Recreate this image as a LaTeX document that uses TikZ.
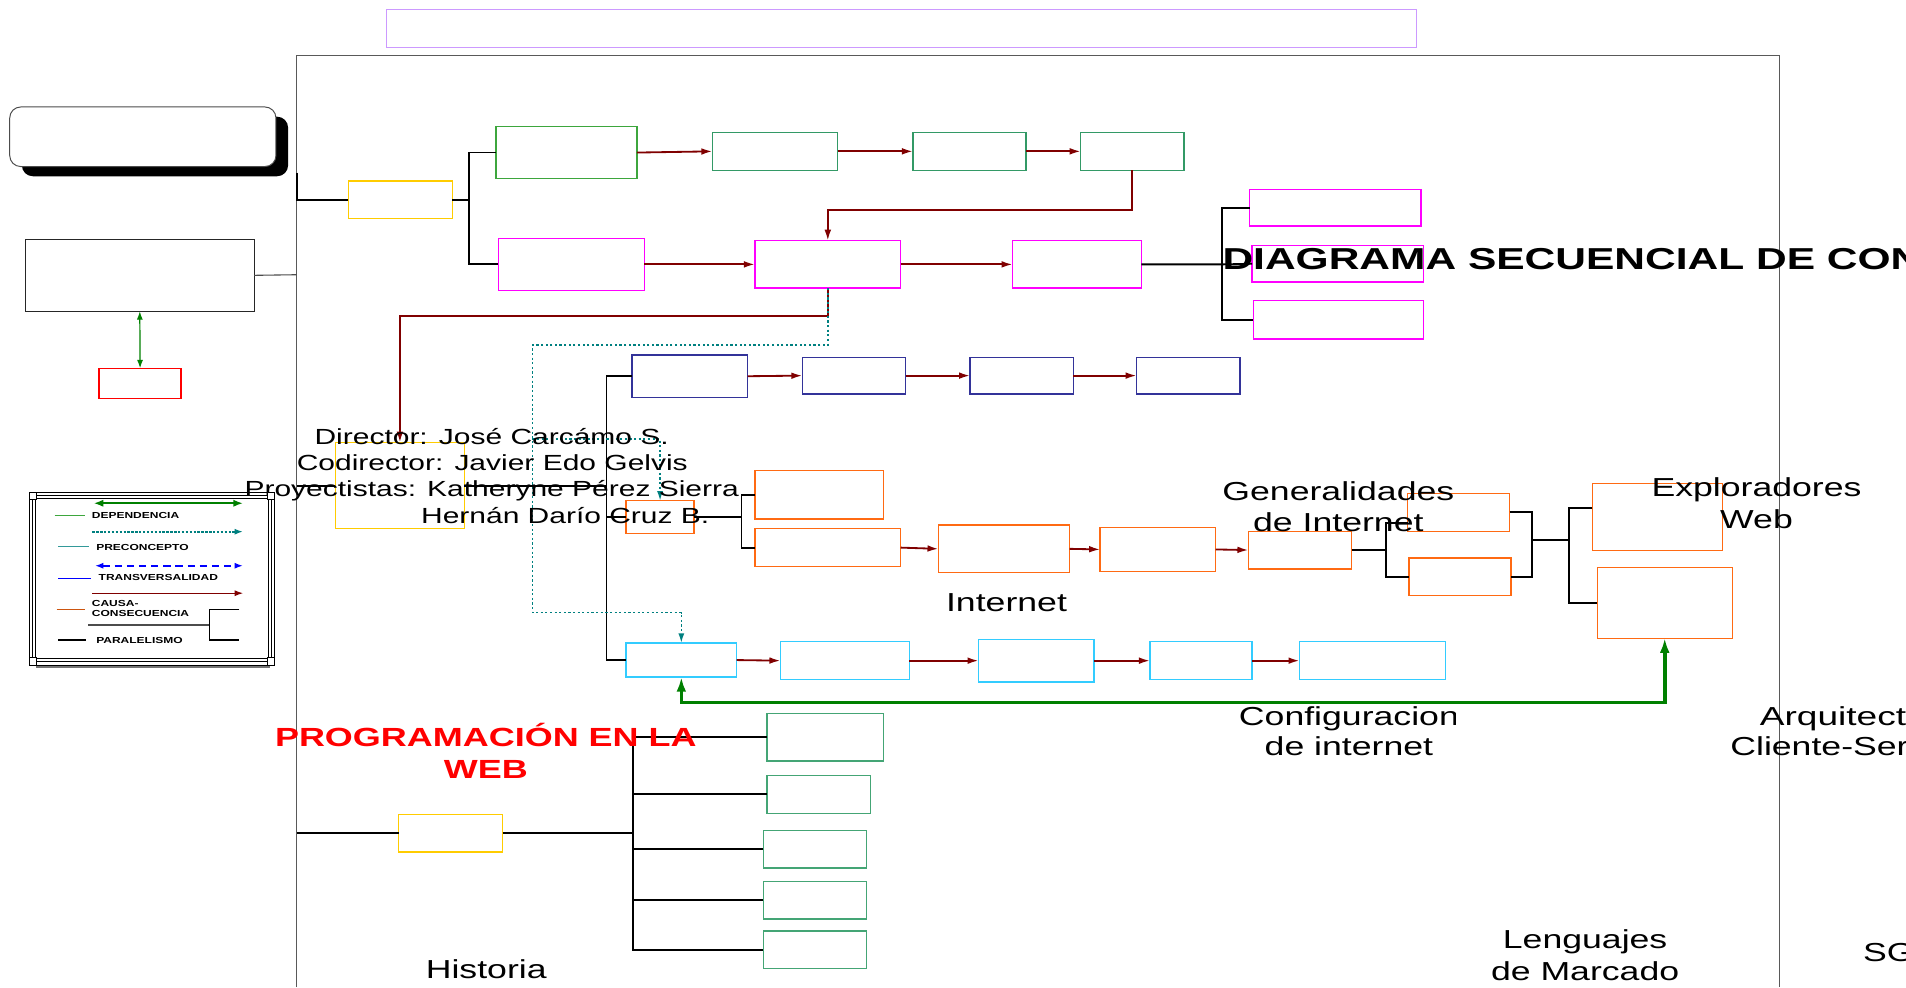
\documentclass[tikz,border=0pt]{standalone}
\usepackage{fontspec}
\setmainfont{Liberation Sans}[FakeStretch=1.37]
\usetikzlibrary{arrows.meta,shadows}
\definecolor{cPurple}{HTML}{CC99FF}
\definecolor{cYellow}{HTML}{FFCC00}
\definecolor{cGreenA}{HTML}{3DA63D}
\definecolor{cGreenB}{HTML}{339966}
\definecolor{cGreenC}{HTML}{44A575}
\definecolor{cMag}{HTML}{FF00FF}
\definecolor{cNavy}{HTML}{333399}
\definecolor{cOrange}{HTML}{FF6A13}
\definecolor{cCyan}{HTML}{33CCFF}
\definecolor{cDRed}{HTML}{800000}
\definecolor{cTeal}{HTML}{008080}
\definecolor{cDep}{HTML}{008000}
\newcommand\mybox[6]{%
  \pgfmathsetmacro\bxw{#4-#2}\pgfmathsetmacro\bxh{#5-#3}%
  \pgfmathsetmacro\bxx{(#2+#4)/2}\pgfmathsetmacro\bxy{(#3+#5)/2}%
  \node[bx,#6,minimum width=\bxw pt,minimum height=\bxh pt] (#1) at (\bxx,\bxy) {};}
\begin{document}
\begin{tikzpicture}[x=1pt,y=-1pt,
  bx/.style={draw,line width=1.1pt,inner sep=0pt,outer sep=0pt},
  ca/.style={draw=cDRed,line width=1.5pt,-{Latex[length=9pt,width=5.5pt]}},
  par/.style={draw=black,line width=1.5pt},
  pre/.style={draw=cTeal,line width=1.3pt,dash pattern=on 1.8pt off 2pt,-{Latex[length=8pt,width=5pt]}},
  dep/.style={draw=cDep,line width=1pt,{Latex[length=7pt,width=5pt]}-{Latex[length=7pt,width=5pt]}},
  depthick/.style={draw=cDep,line width=3pt,{Latex[length=12pt,width=8pt]}-{Latex[length=12pt,width=8pt]}},
  lab/.style={font=\fontsize{21.4}{24}\selectfont,inner sep=0pt,anchor=base},
  dirlab/.style={font=\fontsize{18}{21}\selectfont,inner sep=0pt,anchor=base},
  leg/.style={font=\bfseries\fontsize{7.2}{8.3}\selectfont,inner sep=0pt,anchor=base west}]
\useasboundingbox (0,0) rectangle (1568,812);
\fill[white] (0,0) rectangle (1568,812);

% outer frame
\draw[draw=black!65,line width=0.8pt] (244,812) -- (244,46) -- (1464,46) -- (1464,812);
\coordinate (fA0) at (244,142);
\coordinate (fA) at (244,164.5);
\coordinate (fBk) at (244,226);
\coordinate (fB) at (244,399.5);
\coordinate (fC) at (244,685.5);

% boxes
\mybox{purple}{318}{8}{1165}{39}{draw=cPurple,line width=0.8pt}
\mybox{rbox}{8}{88}{227}{137}{draw=black!70,line width=0.8pt,fill=white,rounded corners=9pt,drop shadow={shadow xshift=10pt,shadow yshift=-8pt,opacity=1,fill=black}}
\mybox{blk}{21}{197}{209}{256}{draw=black!85,line width=0.9pt}
\mybox{red}{81.5}{303}{149}{328}{draw=red}
\mybox{y1}{286.5}{149}{372}{180}{draw=cYellow}
\mybox{g1}{408}{104}{524}{147}{draw=cGreenA}
\mybox{g2}{586}{109}{689}{140}{draw=cGreenB}
\mybox{g3}{751}{109}{844}{140}{draw=cGreenB}
\mybox{g4}{889}{109}{974}{140}{draw=cGreenB}
\mybox{m1}{410}{196}{530}{239}{draw=cMag}
\mybox{m2}{621}{198}{741}{237}{draw=cMag}
\mybox{m3}{833}{198}{939}{237}{draw=cMag}
\mybox{p1}{1028}{156}{1169}{186}{draw=cMag}
\mybox{p2}{1030}{202}{1171}{232}{draw=cMag}
\mybox{p3}{1031}{247}{1171}{279}{draw=cMag}
\mybox{n1}{520}{292}{615}{327}{draw=cNavy}
\mybox{n2}{660}{294}{745}{324}{draw=cNavy}
\mybox{n3}{798}{294}{883}{324}{draw=cNavy}
\mybox{n4}{935}{294}{1020}{324}{draw=cNavy}
\mybox{y2}{276}{364}{382}{435}{draw=cYellow}
\mybox{o0}{515}{412}{571}{439}{draw=cOrange}
\mybox{o1}{621}{387}{727}{427}{draw=cOrange}
\mybox{o2}{621}{435}{741}{466}{draw=cOrange}
\mybox{o3}{772}{432}{880}{471}{draw=cOrange}
\mybox{o4}{905}{434}{1000}{470}{draw=cOrange}
\mybox{o5}{1027}{437}{1112}{468}{draw=cOrange}
\mybox{o6}{1158}{406}{1242}{437}{draw=cOrange}
\mybox{o7}{1159}{459}{1243}{490}{draw=cOrange}
\mybox{o8}{1310}{398}{1417}{453}{draw=cOrange}
\mybox{o9}{1314}{467}{1425}{525}{draw=cOrange}
\mybox{c1}{515}{529}{606}{557}{draw=cCyan}
\mybox{c2}{642}{528}{748}{559}{draw=cCyan}
\mybox{c3}{805}{526}{900}{561}{draw=cCyan}
\mybox{c4}{946}{528}{1030}{559}{draw=cCyan}
\mybox{c5}{1069}{528}{1189}{559}{draw=cCyan}
\mybox{y3}{328}{670}{413.5}{701}{draw=cYellow}
\mybox{h1}{631}{587}{727}{626}{draw=cGreenC}
\mybox{h2}{631}{638}{716}{669}{draw=cGreenC}
\mybox{h3}{628}{683}{713}{714}{draw=cGreenC}
\mybox{h4}{628}{725}{713}{756}{draw=cGreenC}
\mybox{h5}{628}{766}{713}{797}{draw=cGreenC}

% bracket / spine coordinates
\coordinate (b1) at (386,164.5);
\coordinate (b2) at (1005,217.5);
\coordinate (sp) at (499,399.5);
\coordinate (b3) at (610,425.5);
\coordinate (b4) at (1140,452.5);
\coordinate (b5) at (1260,444);
\coordinate (b6) at (1291,444);
\coordinate (b7) at (521,685.5);
\coordinate (t1) at (438,284);
\coordinate (t2) at (438,504);
\coordinate (t3) at (438,361);

% left column
\draw[draw=black!70,line width=0.9pt] (blk.east) -- (fBk);
\draw[dep] (blk.south) -- (red.north);

% paralelismo connectors
\draw[par] (fA0) -- (fA) -- (y1.west);
\draw[par] (y1.east) -- (b1);
\draw[par] (g1.west) -| (b1) |- (m1.west);
\draw[par] (m3.east) -- (b2) -- (p2.west);
\draw[par] (p1.west) -| (b2) |- (p3.west);
\draw[par] (fB) -- (y2.west);
\draw[par] (y2.east) -- (sp);
\draw[par] (n1.west) -| (sp) |- (c1.west);
\draw[par] (o0.west) -- (o0.west -| sp);
\draw[par] (o0.east) -- (b3);
\draw[par] (o1.west) -| (b3) |- (o2.west);
\draw[par] (o5.east) -- (b4);
\draw[par] ([yshift=-8.5pt]o6.west) -| (b4) |- (o7.west);
\draw[par] (o6.east) -| (b5);
\draw[par] (o7.east) -| (b5);
\draw[par] (b5) -- (b6);
\draw[par] ([yshift=7.5pt]o8.west) -| (b6) |- (o9.west);
\draw[par] (fC) -- (y3.west);
\draw[par] (y3.east) -- (b7);
\draw[par] (h1.west) -| (b7) |- (h5.west);
\draw[par] (h2.west) -- (h2.west -| b7);
\draw[par] (h3.west) -- (h3.west -| b7);
\draw[par] (h4.west) -- (h4.west -| b7);

% causa-consecuencia arrows
\draw[ca] (g1.east) -- (g2.west);
\draw[ca] (g2.east) -- (g3.west);
\draw[ca] (g3.east) -- (g4.west);
\draw[ca] (g4.south) -- ++(0,33) -| (m2.north);
\draw[ca] (m1.east) -- (m2.west);
\draw[ca] (m2.east) -- (m3.west);
\draw[ca] (m2.south) -- ++(0,23) -| (y2.north);
\draw[ca] (n1.east) -- (n2.west);
\draw[ca] (n2.east) -- (n3.west);
\draw[ca] (n3.east) -- (n4.west);
\draw[ca] (o2.east) -- (o3.west);
\draw[ca] (o3.east) -- (o4.west);
\draw[ca] (o4.east) -- (o5.west);
\draw[ca] (c1.east) -- (c2.west);
\draw[ca] (c2.east) -- (c3.west);
\draw[ca] (c3.east) -- (c4.west);
\draw[ca] (c4.east) -- (c5.west);

% preconcepto (dotted)
\draw[pre] (m2.south) |- (t1) -- (t2) -| (c1.north);
\draw[pre] (t3) -| (o0.north);

% dependencia (thick)
\draw[depthick] (c1.south) -- ++(0,21) -| (o9.south);

% texts
\node[font=\bfseries\fontsize{24.9}{28}\selectfont,inner sep=0pt,anchor=base west] (tdiag) at (1005.5,222) {\scalebox{1.025}[1]{DIAGRAMA SECUENCIAL DE CONTENIDOS}};
\node[dirlab] (td1) at (404.5,366) {Director: José Carcámo S.};
\node[dirlab] (td2) at (405,387) {Codirector: Javier Edo Gelvis};
\node[dirlab] (td3) at (404.5,408.6) {Proyectistas: Katheryne Pérez Sierra};
\node[dirlab] (td4) at (465,430.5) {Hernán Darío Cruz B.};
\node[lab] (tint) at (828,503) {Internet};
\node[lab] (tgen1) at (1101,411.4) {Generalidades};
\node[lab] (tgen2) at (1101,437.4) {de Internet};
\node[lab] (texp1) at (1445,408.6) {Exploradores};
\node[lab] (texp2) at (1445,434.7) {Web};
\begin{scope}
\clip (0,0) rectangle (1197,812);
\node[lab] (tconf1) at (1109.7,596.5) {Configuracion};
\node[lab] (tconf2) at (1109.7,621.2) {de internet};
\end{scope}
\node[lab] (tarq1) at (1530,596.5) {\scalebox{1.04}[1]{Arquitectura}};
\node[lab] (tarq2) at (1528.6,621.2) {Cliente-Servidor};
\begin{scope}
\clip (0,0) rectangle (1380,812);
\node[lab] (tlen1) at (1304,780) {Lenguajes};
\node[lab] (tlen2) at (1304,806.2) {de Marcado};
\end{scope}
\node[lab,anchor=base west] (tsg) at (1532.5,791) {SGBD};
\node[lab] (this) at (400,805) {Historia};
\node[font=\bfseries\fontsize{21.6}{26}\selectfont,text=red,inner sep=0pt,anchor=base] (tprog1) at (399.7,614.3) {PROGRAMACIÓN EN LA};
\node[font=\bfseries\fontsize{21.6}{26}\selectfont,text=red,inner sep=0pt,anchor=base] (tprog2) at (399.7,640.3) {WEB};

% legend
\draw[black,line width=0.7pt] (24,405) rectangle (226,547);
\draw[black,line width=0.7pt] (26.5,407.5) rectangle (223.5,544.5);
\draw[black,line width=0.7pt] (29,410) rectangle (221,542);
\foreach \cx/\cy in {24/405,220/405,24/541,220/541}
  \draw[black,line width=0.6pt,fill=white] (\cx,\cy) rectangle ++(6,6);
\draw[black!55,line width=1.4pt] (30,548.5) -- (222,548.5);
\draw[draw=cDep,line width=2pt,{Latex[length=8pt,width=6pt]}-{Latex[length=8pt,width=6pt]}] (77,414) -- (200,414);
\draw[draw=cGreenA,line width=1pt] (45,424.3) -- (70,424.3);
\node[leg] (lg1) at (75.4,426.4) {DEPENDENCIA};
\draw[draw=cTeal,line width=1.5pt,dash pattern=on 2pt off 1.2pt,-{Latex[length=7pt,width=5pt]}] (76,437.4) -- (200,437.4);
\draw[draw=cTeal!80,line width=1pt] (48,449.7) -- (73,449.7);
\node[leg] (lg2) at (79,452.5) {PRECONCEPTO};
\draw[draw=blue,line width=1.8pt,dash pattern=on 6pt off 4pt,{Latex[length=7pt,width=5pt]}-{Latex[length=7pt,width=5pt]}] (78,465.4) -- (200,465.4);
\draw[draw=blue,line width=1pt] (48,475.8) -- (75,475.8);
\node[leg] (lg3) at (81,477.2) {TRANSVERSALIDAD};
\draw[draw=cDRed,line width=1pt,-{Latex[length=7pt,width=5pt]}] (76,488) -- (200,488);
\draw[draw=cOrange!80!black,line width=1pt] (46.6,501.3) -- (70,501.3);
\node[leg] (lg4) at (75.4,499.1) {CAUSA-};
\node[leg] (lg5) at (75.4,507.4) {CONSECUENCIA};
\draw[draw=black!70,line width=1.4pt] (72.7,514.2) -- (172.2,514.2);
\draw[black,line width=1pt] (197,501.3) -- (172.2,501.3) -- (172.2,526.5) -- (197,526.5);
\draw[black,line width=1pt] (48,526.5) -- (71,526.5);
\node[leg] (lg6) at (79,529.3) {PARALELISMO};
\end{tikzpicture}
\end{document}
